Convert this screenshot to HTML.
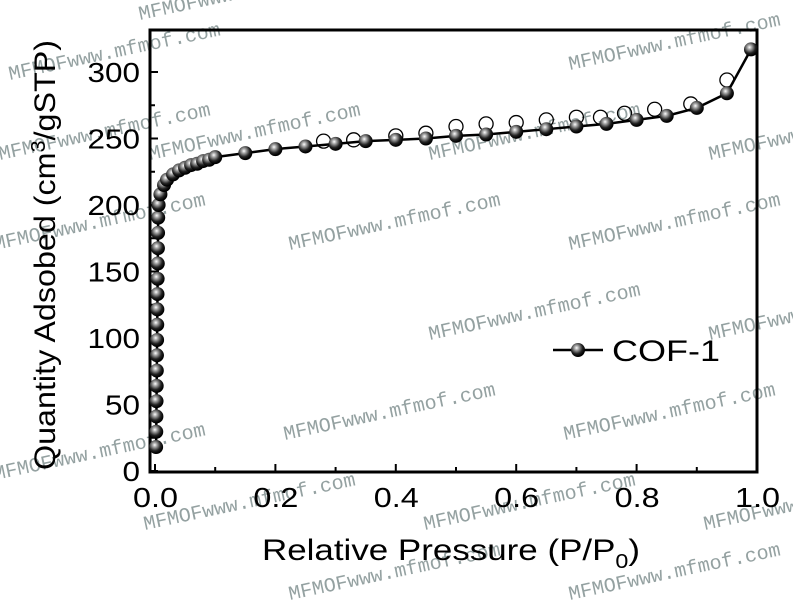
<!DOCTYPE html>
<html><head><meta charset="utf-8"><style>
html,body{margin:0;padding:0;background:#fff;width:793px;height:600px;overflow:hidden}
</style></head><body>
<svg id="s" width="793" height="600" xmlns="http://www.w3.org/2000/svg" font-family="Liberation Sans, sans-serif">
<defs>
<radialGradient id="g" cx="0.4" cy="0.35" r="0.6">
<stop offset="0" stop-color="#fff"/><stop offset="0.25" stop-color="#aaa"/><stop offset="0.7" stop-color="#222"/><stop offset="1" stop-color="#000"/>
</radialGradient>
</defs>
<g id="wm" fill="#7a8a8a" font-family="Liberation Mono, monospace" font-size="20" opacity="0.8"></g>
<rect x="150" y="30" width="607" height="442" fill="none" stroke="#000" stroke-width="3"/>
<g id="ax" stroke="#000" stroke-width="2"></g>
<g id="lbl" font-size="28" fill="#000"></g>
<g id="data"></g>
<text x="262" y="560" font-size="30" textLength="378" lengthAdjust="spacingAndGlyphs">Relative Pressure (P/P<tspan font-size="20" dy="8">0</tspan><tspan dy="-8">)</tspan></text>
<text transform="translate(55,470) rotate(-90)" font-size="30" textLength="430" lengthAdjust="spacingAndGlyphs">Quantity Adsobed (cm<tspan font-size="20" dy="-10">3</tspan><tspan dy="10">/gSTP)</tspan></text>
<line x1="553" y1="350" x2="603" y2="350" stroke="#000" stroke-width="2.5"/>
<circle cx="578" cy="350" r="7" fill="url(#g)"/>
<text x="612" y="361" font-size="30" textLength="108" lengthAdjust="spacingAndGlyphs">COF-1</text>
</svg>
<script>
const NS="http://www.w3.org/2000/svg";
const X=p=>155+p*602, Y=v=>471-v*1.33;
function el(t,a,par){const e=document.createElementNS(NS,t);for(const k in a)e.setAttribute(k,a[k]);document.getElementById(par).appendChild(e);return e;}
for(let i=0;i<=5;i++){const x=X(i*0.2);el('line',{x1:x,y1:472,x2:x,y2:464},'ax');const t=el('text',{x:x-22,y:507,textLength:45,lengthAdjust:'spacingAndGlyphs'},'lbl');t.textContent=(i*0.2).toFixed(1);
 if(i<5){const xm=X(i*0.2+0.1);el('line',{x1:xm,y1:472,x2:xm,y2:467},'ax');}}
for(let v=0;v<=300;v+=50){const y=Y(v);el('line',{x1:150,y1:y,x2:158,y2:y},'ax');const s=String(v);const w=s.length*17.5;const t=el('text',{x:140-w,y:y+10,textLength:w,lengthAdjust:'spacingAndGlyphs'},'lbl');t.textContent=s;
 if(v<300){el('line',{x1:150,y1:Y(v+25),x2:155,y2:Y(v+25)},'ax');}}
const des=[[0.28,248],[0.33,249],[0.4,252],[0.45,254],[0.5,259],[0.55,261],[0.6,262],[0.65,264],[0.7,266],[0.74,266],[0.78,269],[0.83,272],[0.89,276],[0.95,294]];
des.forEach(d=>el('circle',{cx:X(d[0]),cy:Y(d[1]),r:7,fill:'none',stroke:'#000','stroke-width':1.3},'data'));
let ads=[];
for(let v=18;v<200;v+=11.5)ads.push([0.0015+v/200*0.004,v]);
ads.push([0.006,200],[0.009,208],[0.015,215],[0.02,219],[0.03,223],[0.04,226],[0.05,228],[0.06,230],[0.07,231],[0.08,233],[0.09,234],[0.1,236],[0.15,239],[0.2,242],[0.25,244],[0.3,246],[0.35,248],[0.4,249],[0.45,250],[0.5,252],[0.55,253],[0.6,255],[0.65,257],[0.7,259],[0.75,261],[0.8,264],[0.85,267],[0.9,273],[0.95,284],[0.99,317]);
el('polyline',{points:ads.map(d=>X(d[0])+','+Y(d[1])).join(' '),fill:'none',stroke:'#000','stroke-width':2.5},'data');
ads.forEach(d=>el('circle',{cx:X(d[0]),cy:Y(d[1]),r:7,fill:'url(#g)'},'data'));
const w=[[10,80],[150,160],[290,250],[430,340],[570,70],[710,160],[-5,250],[145,530],[285,440],[425,530],[565,440],[705,530],[-5,480],[140,20],[570,250],[710,340],[290,600],[570,600],[0,160],[430,160]];
w.forEach(p=>{const t=el('text',{transform:`translate(${p[0]},${p[1]}) rotate(-12)`},'wm');t.textContent='MFMOFwww.mfmof.com';});
</script>
</body></html>
